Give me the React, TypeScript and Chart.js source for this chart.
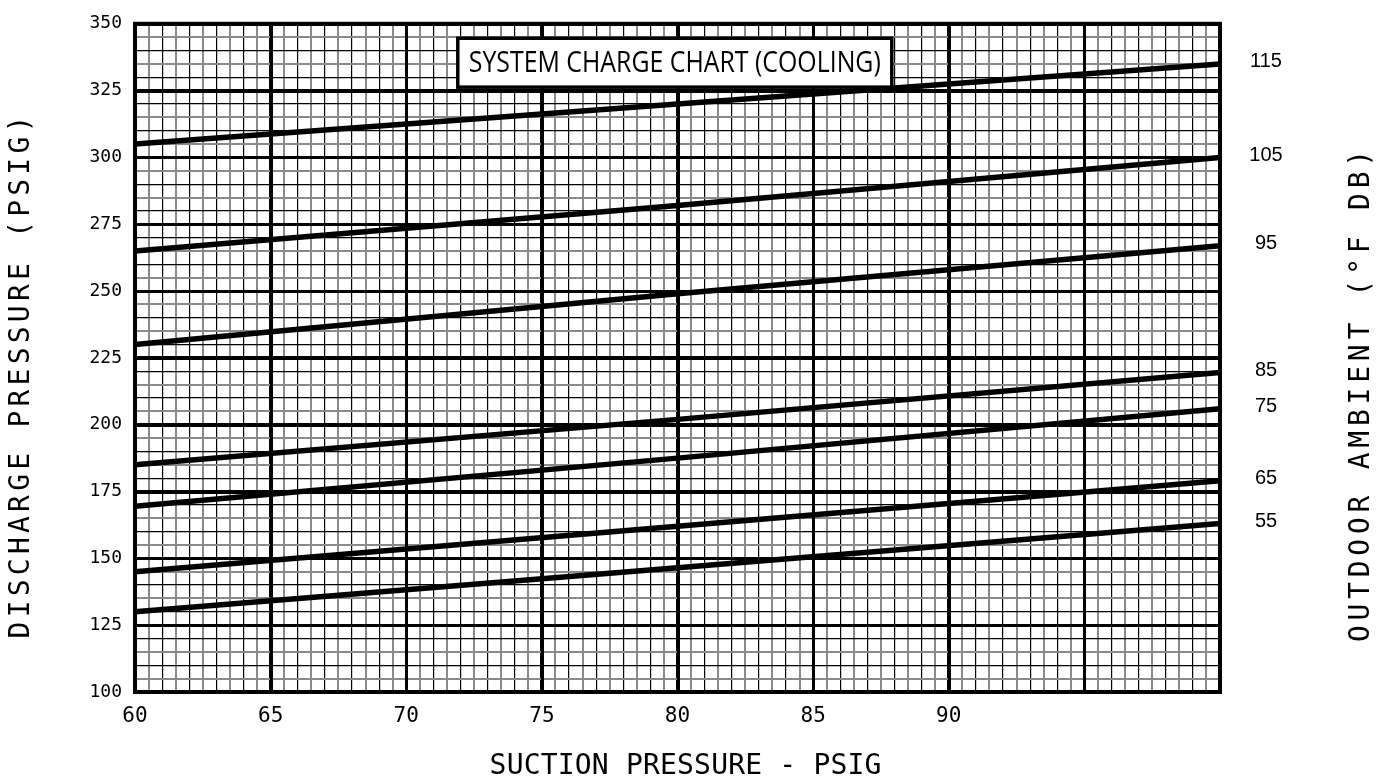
import React, { useEffect, useRef } from 'react';
import { Chart, registerables } from 'chart.js';

Chart.register(...registerables);

// Suction pressure (psig) sample points
const suctionPressure = [60, 80, 100];

// Discharge pressure (psig) per outdoor ambient (°F DB)
const ambient115 = [305, 320, 335];
const ambient105 = [265, 282, 300];
const ambient95 = [230, 249, 267];
const ambient85 = [185, 202, 219.5];
const ambient75 = [169.5, 187.5, 206];
const ambient65 = [145, 162, 179];
const ambient55 = [130, 146.5, 163];

const ambientLabels = ['115', '105', '95', '85', '75', '65', '55'];
const seriesValues = [ambient115, ambient105, ambient95, ambient85, ambient75, ambient65, ambient55];

const xTickLabels = [60, 65, 70, 75, 80, 85, 90];
const yTickLabels = [100, 125, 150, 175, 200, 225, 250, 275, 300, 325, 350];

const chartTitle = 'SYSTEM CHARGE CHART (COOLING)';
const xTitle = 'SUCTION PRESSURE - PSIG';
const yTitle = 'DISCHARGE PRESSURE (PSIG)';
const y2Title = 'OUTDOOR AMBIENT (°F DB)';

const X_MIN = 60, X_MAX = 100, X_MINOR = 0.5, X_MAJOR = 5;
const Y_MIN = 100, Y_MAX = 350, Y_MINOR = 5, Y_MAJOR = 25;

const isMult = (v: number, m: number) => Math.abs(v / m - Math.round(v / m)) < 1e-6;

function drawSpaced(ctx: CanvasRenderingContext2D, text: string, cx: number, cy: number, span: number) {
  const chars = Array.from(text);
  const cell = span / chars.length;
  const start = cx - span / 2;
  ctx.textAlign = 'center';
  ctx.textBaseline = 'middle';
  chars.forEach((c, i) => {
    ctx.fillText(c, start + cell * (i + 0.5), cy);
  });
}

const overlayPlugin = {
  id: 'overlayPlugin',
  beforeDatasetsDraw(chart: any) {
    const { ctx, chartArea: a, scales } = chart;
    const xs = scales.x, ys = scales.y;
    ctx.save();
    ctx.strokeStyle = '#000';
    ctx.lineWidth = 3;
    ctx.beginPath();
    for (let v = X_MIN; v <= X_MAX + 1e-9; v += X_MAJOR) {
      const px = Math.round(xs.getPixelForValue(v)) + 0.5;
      ctx.moveTo(px, a.top);
      ctx.lineTo(px, a.bottom);
    }
    for (let v = Y_MIN; v <= Y_MAX + 1e-9; v += Y_MAJOR) {
      const py = Math.round(ys.getPixelForValue(v)) + 0.5;
      ctx.moveTo(a.left, py);
      ctx.lineTo(a.right, py);
    }
    ctx.stroke();
    ctx.lineWidth = 4;
    ctx.strokeRect(a.left, a.top, a.right - a.left, a.bottom - a.top);
    ctx.restore();
  },
  afterDraw(chart: any) {
    const { ctx, chartArea: a, scales } = chart;
    const xs = scales.x, ys = scales.y;
    ctx.save();
    ctx.fillStyle = '#000';

    // Title box
    const bx1 = xs.getPixelForValue(71.9);
    const bx2 = xs.getPixelForValue(87.9);
    const by1 = ys.getPixelForValue(344.6);
    const by2 = ys.getPixelForValue(326.3);
    ctx.fillStyle = '#fff';
    ctx.fillRect(bx1, by1, bx2 - bx1, by2 - by1);
    ctx.strokeStyle = '#000';
    ctx.lineWidth = 3.5;
    ctx.strokeRect(bx1, by1, bx2 - bx1, by2 - by1);
    ctx.fillStyle = '#000';
    ctx.font = '29px "Open Sans"';
    const tw = ctx.measureText(chartTitle).width;
    const target = (bx2 - bx1) - 22;
    const sx = Math.min(1, target / tw);
    ctx.save();
    ctx.translate((bx1 + bx2) / 2, (by1 + by2) / 2 + 1);
    ctx.scale(sx, 1);
    ctx.textAlign = 'center';
    ctx.textBaseline = 'middle';
    ctx.fillText(chartTitle, 0, 0);
    ctx.restore();

    // Right-side ambient labels
    ctx.font = '20px "Liberation Sans"';
    ctx.textAlign = 'center';
    ctx.textBaseline = 'middle';
    seriesValues.forEach((vals, i) => {
      const last = vals[vals.length - 1];
      const py = ys.getPixelForValue(last) - 2;
      ctx.fillText(ambientLabels[i], a.right + 46, py);
    });

    // Axis titles
    ctx.font = '28px "DejaVu Sans Mono"';
    drawSpaced(ctx, xTitle, (a.left + a.right) / 2 + 8, 767, 392);

    ctx.save();
    ctx.translate(22, 377);
    ctx.rotate(-Math.PI / 2);
    drawSpaced(ctx, yTitle, 0, 0, 527);
    ctx.restore();

    ctx.save();
    ctx.translate(1362, 396);
    ctx.rotate(-Math.PI / 2);
    drawSpaced(ctx, y2Title, 0, 0, 497);
    ctx.restore();

    ctx.restore();
  },
};

export default function App() {
  const canvasRef = useRef<HTMLCanvasElement | null>(null);

  useEffect(() => {
    document.body.style.margin = '0';
    const canvas = canvasRef.current;
    if (!canvas) return;

    const datasets = seriesValues.map((vals, i) => ({
      label: ambientLabels[i],
      data: vals.map((v, j) => ({ x: suctionPressure[j], y: v })),
      borderColor: '#000',
      backgroundColor: '#000',
      borderWidth: 5.5,
      pointRadius: 0,
      tension: 0,
      fill: false,
    }));

    const chart = new Chart(canvas, {
      type: 'line',
      data: { datasets },
      plugins: [overlayPlugin],
      options: {
        animation: false,
        responsive: false,
        maintainAspectRatio: false,
        layout: { padding: { left: 0, right: 169, top: 15, bottom: 0 } },
        plugins: {
          legend: { display: false },
          tooltip: { enabled: false },
          title: { display: false },
        },
        scales: {
          x: {
            type: 'linear',
            min: X_MIN,
            max: X_MAX,
            afterFit: (scale: any) => { scale.height = 92; },
            border: { display: false },
            grid: {
              drawTicks: false,
              color: (c: any) => {
                const v = c.tick ? c.tick.value : 0;
                if (isMult(v, X_MAJOR)) return '#000';
                return isMult(v, 1) ? '#000' : '#8a8a8a';
              },
              lineWidth: (c: any) => {
                const v = c.tick ? c.tick.value : 0;
                if (isMult(v, X_MAJOR)) return 3;
                return isMult(v, 1) ? 1.2 : 2;
              },
            },
            ticks: {
              stepSize: X_MINOR,
              autoSkip: false,
              maxRotation: 0,
              minRotation: 0,
              padding: 12,
              color: '#000',
              font: { family: '"DejaVu Sans Mono"', size: 21 },
              callback: (v: any) => (xTickLabels.some((t) => Math.abs(t - v) < 1e-6) ? String(v) : ''),
            },
          },
          y: {
            type: 'linear',
            min: Y_MIN,
            max: Y_MAX,
            afterFit: (scale: any) => { scale.width = 135; },
            border: { display: false },
            grid: {
              drawTicks: false,
              color: (c: any) => {
                const v = c.tick ? c.tick.value : 0;
                if (isMult(v, Y_MAJOR)) return '#000';
                return isMult(v, 10) ? '#000' : '#8a8a8a';
              },
              lineWidth: (c: any) => {
                const v = c.tick ? c.tick.value : 0;
                if (isMult(v, Y_MAJOR)) return 3;
                return isMult(v, 10) ? 1.2 : 2;
              },
            },
            ticks: {
              stepSize: Y_MINOR,
              autoSkip: false,
              padding: 13,
              color: '#000',
              font: { family: '"DejaVu Sans Mono"', size: 18 },
              callback: (v: any) => (yTickLabels.some((t) => Math.abs(t - v) < 1e-6) ? String(v) : ''),
            },
          },
        },
      },
    });

    return () => chart.destroy();
  }, []);

  return (
    <div style={{ width: 1389, height: 784, background: '#fff' }}>
      <canvas ref={canvasRef} width={1389} height={784} style={{ display: 'block' }} />
    </div>
  );
}
